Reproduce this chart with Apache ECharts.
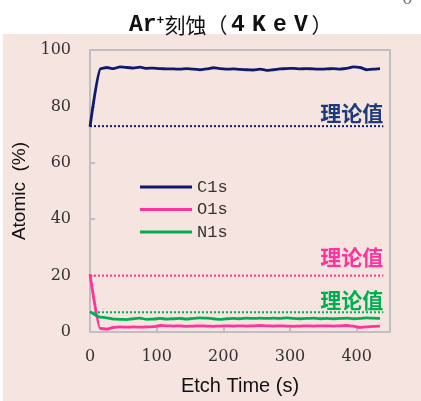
<!DOCTYPE html>
<html>
<head>
<meta charset="utf-8">
<script src="https://cdn.jsdelivr.net/npm/echarts@6/dist/echarts.min.js"></script>
<style>
  html, body { margin: 0; padding: 0; background: #fff; }
  #chart { width: 421px; height: 401px; }
</style>
</head>
<body>
<div id="chart"></div>
<script>
  // etch time (s)
  var times = [0, 15, 25, 35, 45, 55, 65, 75, 85, 95, 105, 115, 125, 135, 145, 155, 165, 175, 185, 195,
    205, 215, 225, 235, 245, 255, 265, 275, 285, 295, 305, 315, 325, 335, 345, 355, 365, 375, 385, 395,
    405, 415, 425, 435];
  var c1s = [72.8, 93.3, 93.8, 93.4, 94.0, 93.8, 93.6, 93.9, 93.5, 93.6, 93.4, 93.3, 93.3, 93.2, 93.4, 93.2,
    93.0, 93.3, 93.7, 93.4, 93.2, 93.3, 93.1, 93.0, 92.9, 93.2, 92.8, 93.0, 93.3, 93.4, 93.5, 93.3, 93.4,
    93.3, 93.2, 93.3, 93.4, 93.2, 93.5, 94.0, 93.8, 93.0, 93.2, 93.4];
  var o1s = [20.5, 1.3, 1.0, 1.6, 1.8, 1.7, 1.8, 1.7, 1.8, 1.9, 2.3, 2.2, 2.1, 2.2, 2.0, 2.1, 2.2, 2.1, 2.0,
    2.1, 2.2, 2.1, 2.2, 2.1, 2.2, 2.3, 2.2, 2.1, 2.2, 2.1, 2.0, 2.1, 2.2, 2.1, 2.2, 2.2, 2.1, 2.2, 2.3, 2.1,
    1.6, 1.8, 2.0, 2.1];
  var n1s = [7.2, 5.3, 5.0, 4.6, 4.5, 4.4, 4.7, 4.9, 4.5, 4.6, 4.8, 4.6, 4.7, 4.8, 4.6, 4.8, 5.0, 4.9, 4.7,
    4.5, 4.7, 4.8, 4.7, 4.9, 4.8, 4.9, 4.8, 4.9, 4.8, 5.0, 4.8, 4.7, 4.8, 4.9, 4.7, 4.8, 4.7, 4.8, 4.9, 4.7,
    4.8, 5.0, 4.9, 4.8];
  var seriesNames = ['C1s', 'O1s', 'N1s'];
  var theory = [73, 20, 7];        // 理论值
  var theorySpan = [0, 440];
  var yTicks = [0, 20, 40, 60, 80, 100];

  var colors = ['#0f1a6b', '#ff3399', '#00b050'];
  var labelColors = ['#1f3a7a', '#ff3399', '#00b050'];
  var labelOffset = [[0, -3], [0, -8], [0, -2]];

  function pairs(xs, ys) {
    return xs.map(function (x, i) { return [x, ys[i]]; });
  }

  // "4KeV" is set wide in the original title, one cell per letter
  var wide = '4KeV'.split('').map(function (ch) { return '{k|' + ch + '}'; }).join('');

  var chartDom = document.getElementById('chart');
  var myChart = echarts.init(chartDom);
  var option;

  var series = [];
  [c1s, o1s, n1s].forEach(function (vals, i) {
    series.push({
      name: seriesNames[i],
      type: 'line',
      data: pairs(times, vals),
      symbol: 'none',
      smooth: 0.2,
      smoothMonotone: 'x',
      lineStyle: { color: colors[i], width: 2.8 },
      itemStyle: { color: colors[i] },
      z: 3
    });
  });
  theory.forEach(function (v, i) {
    series.push({
      name: seriesNames[i] + '理论值',
      type: 'line',
      symbol: 'none',
      data: [[theorySpan[0], v], [theorySpan[1], v]],
      lineStyle: { color: colors[i], width: 2, type: [2, 2] },
      endLabel: {
        show: true,
        distance: 0,
        align: 'right',
        verticalAlign: 'bottom',
        offset: labelOffset[i],
        formatter: '理论值',
        color: labelColors[i],
        fontFamily: 'Noto Sans CJK SC',
        fontWeight: 'bold',
        fontSize: 21
      },
      z: 2
    });
  });

  option = {
    backgroundColor: '#fff',
    animation: false,
    graphic: [
      {
        type: 'rect',
        shape: { x: 3, y: 34, width: 418, height: 367 },
        style: { fill: '#f5e4e0' },
        z: -10
      },
      {
        type: 'text',
        x: 402, y: -9,
        style: { text: '0', font: '17px "DejaVu Serif"', fill: '#777' }
      }
    ],
    title: {
      text: '{l|Ar}{s|+}{c|刻蚀（}' + wide + '{c|）}',
      left: 124,
      top: 9,
      textStyle: {
        rich: {
          l: { fontFamily: 'Liberation Mono', fontSize: 23, fontWeight: 'bold', color: '#111' },
          k: { fontFamily: 'Liberation Mono', fontSize: 23, fontWeight: 'bold', color: '#111', width: 21, align: 'center' },
          c: { fontFamily: 'Noto Sans CJK SC', fontSize: 21, fontWeight: 'normal', color: '#111' },
          s: { fontFamily: 'Liberation Mono', fontSize: 13, fontWeight: 'bold', color: '#111', verticalAlign: 'top', padding: [0, 0, 10, 0] }
        }
      }
    },
    legend: {
      data: seriesNames,
      orient: 'vertical',
      left: 135,
      top: 173,
      icon: 'rect',
      itemWidth: 52,
      itemHeight: 3,
      itemGap: 4.5,
      textStyle: { fontFamily: 'Liberation Mono', fontSize: 17, color: '#333', lineHeight: 18 }
    },
    grid: {
      left: 90, top: 50, right: 31, bottom: 65,
      show: true,
      backgroundColor: '#f5e4e0',
      borderColor: '#bfbfbf',
      borderWidth: 2
    },
    xAxis: {
      type: 'value',
      min: 0, max: 450, interval: 100,
      name: 'Etch Time (s)',
      nameLocation: 'middle',
      nameGap: 44,
      nameTextStyle: { fontFamily: 'Liberation Sans', fontSize: 20, color: '#111' },
      axisLine: { show: true, lineStyle: { color: '#bfbfbf', width: 2 } },
      axisTick: { show: true, inside: true, length: 5, lineStyle: { color: '#bfbfbf', width: 2 } },
      axisLabel: { showMaxLabel: false, margin: 17, fontFamily: 'DejaVu Serif', fontSize: 16, color: '#333' },
      splitLine: { show: false }
    },
    yAxis: {
      type: 'value',
      min: yTicks[0], max: yTicks[yTicks.length - 1], interval: 20,
      name: 'Atomic  (%)',
      nameLocation: 'middle',
      nameGap: 53,
      nameTextStyle: { fontFamily: 'Liberation Sans', fontSize: 19, color: '#111' },
      axisLine: { show: true, lineStyle: { color: '#bfbfbf', width: 2 } },
      axisTick: { show: true, inside: true, length: 5, lineStyle: { color: '#bfbfbf', width: 2 } },
      axisLabel: { margin: 19, fontFamily: 'DejaVu Serif', fontSize: 16, color: '#333' },
      splitLine: { show: false }
    },
    series: series
  };
  option && myChart.setOption(option);
</script>
</body>
</html>
